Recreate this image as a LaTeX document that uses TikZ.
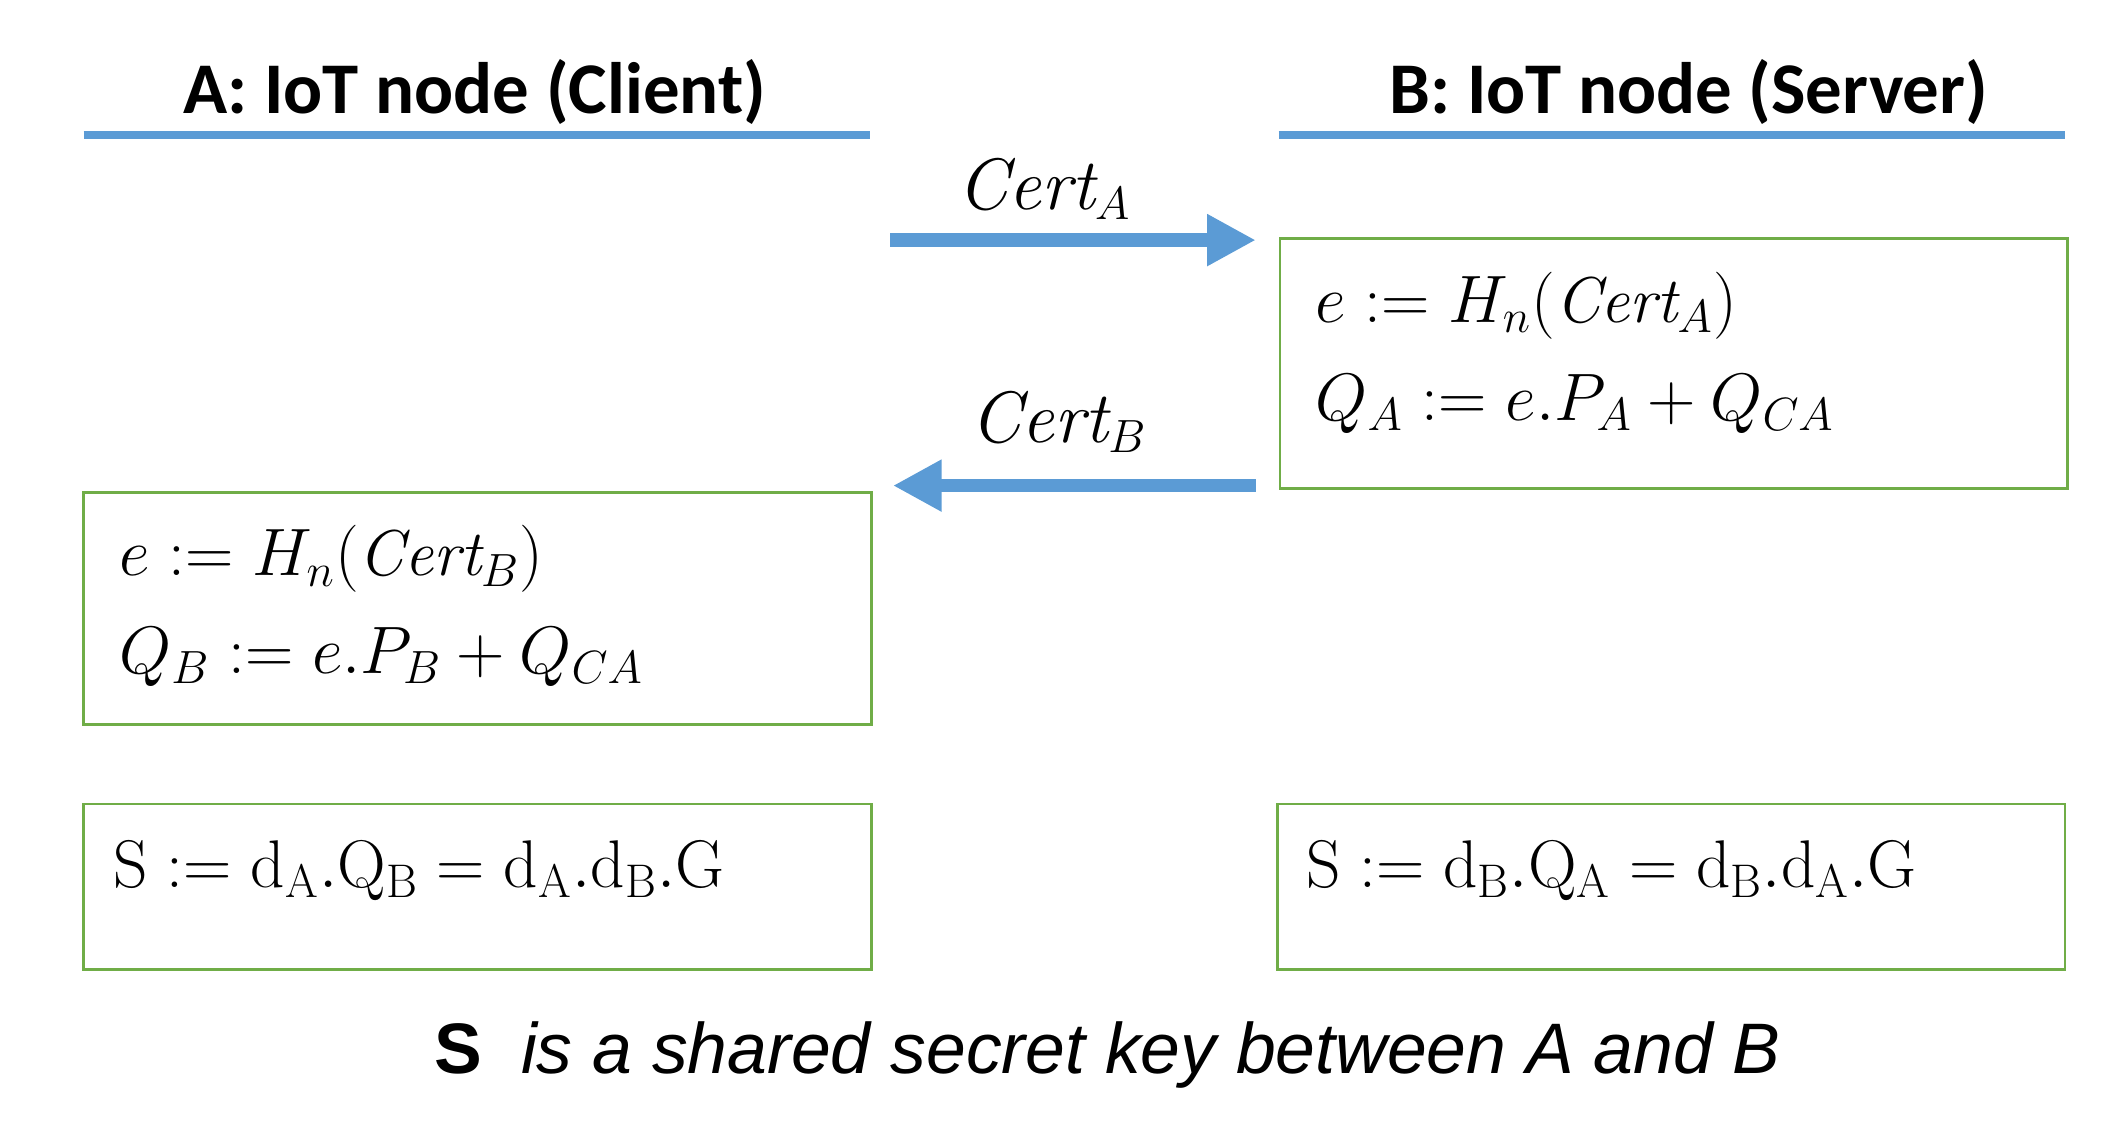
\documentclass[tikz,border=0pt]{standalone}
\usepackage{fontspec}
\usetikzlibrary{arrows.meta}
\newfontfamily\titlefont{Carlito}
\newfontfamily\capfont{Liberation Sans}
\definecolor{hblue}{RGB}{91,155,213}
\definecolor{bgreen}{RGB}{112,173,71}
\begin{document}
\begin{tikzpicture}[x=0.5pt,y=-0.5pt,
  titlestyle/.style={font=\titlefont\bfseries\fontsize{27}{32}\selectfont, inner sep=0pt},
  hline/.style={draw=hblue, line width=3pt},
  msg/.style={draw=hblue, line width=5pt, -{Triangle[width=18pt,length=18pt]}},
  lbl/.style={font=\fontsize{27}{32}\selectfont, inner sep=0pt},
  gbox/.style={draw=bgreen, line width=1pt, anchor=north west, inner sep=0pt, minimum width=292pt},
  mtext/.style={font=\fontsize{24}{30}\selectfont, anchor=base west, inner sep=0pt},
  stext/.style={font=\fontsize{25}{30}\selectfont, anchor=base west, inner sep=0pt},
  capt/.style={font=\capfont\fontsize{26.5}{32}\selectfont, inner sep=0pt}]
\useasboundingbox (0,0) rectangle (1568,846);
% headers
\node[titlestyle] (tA) at (352,68) {A: IoT node (Client)};
\node[titlestyle] (tB) at (1252,68) {B: IoT node (Server)};
\coordinate (la1) at (62,100);
\coordinate (la2) at (645,100);
\coordinate (lb1) at (948,100);
\coordinate (lb2) at (1531,100);
\draw[hline] (la1) -- (la2);
\draw[hline] (lb1) -- (lb2);
% messages
\coordinate (r1) at (660,178);
\coordinate (r2) at (931,178);
\coordinate (l1) at (931,360);
\coordinate (l2) at (662,360);
\draw[msg] (r1) -- (r2);
\draw[msg] (l1) -- (l2);
\node[lbl] (certA) at (774,140) {$\mathit{Cert}_A$};
\node[lbl] (certB) at (785,313) {$\mathit{Cert}_B$};
% boxes
\node[gbox, minimum height=92.5pt] (boxB1) at (948,176) {};
\node[gbox, minimum height=86pt] (boxA1) at (61,364) {};
\node[gbox, minimum height=61.5pt] (boxA2) at (61,595) {};
\node[gbox, minimum height=61.5pt] (boxB2) at (946,595) {};
% texts
\node[mtext] (eB) at (975,239) {$e \mathrel{:=} H_n(\mathit{Cert}_A)$};
\node[mtext] (qB) at (975,312) {$Q_A \mathrel{:=} e.P_A + Q_{CA}$};
\node[mtext] (eA) at (88,427) {$e \mathrel{:=} H_n(\mathit{Cert}_B)$};
\node[mtext] (qA) at (88,499) {$Q_B \mathrel{:=} e.P_B + Q_{CA}$};
\node[stext] (sA) at (84,658) {$\mathrm{S} := \mathrm{d}_\mathrm{A}.\mathrm{Q}_\mathrm{B} = \mathrm{d}_\mathrm{A}.\mathrm{d}_\mathrm{B}.\mathrm{G}$};
\node[stext] (sB) at (968,658) {$\mathrm{S} := \mathrm{d}_\mathrm{B}.\mathrm{Q}_\mathrm{A} = \mathrm{d}_\mathrm{B}.\mathrm{d}_\mathrm{A}.\mathrm{G}$};
% caption
\node[capt] (cap) at (821,782) {\textbf{S}\hspace{0.55em}\textit{is a shared secret key between A and B}};
\end{tikzpicture}
\end{document}
